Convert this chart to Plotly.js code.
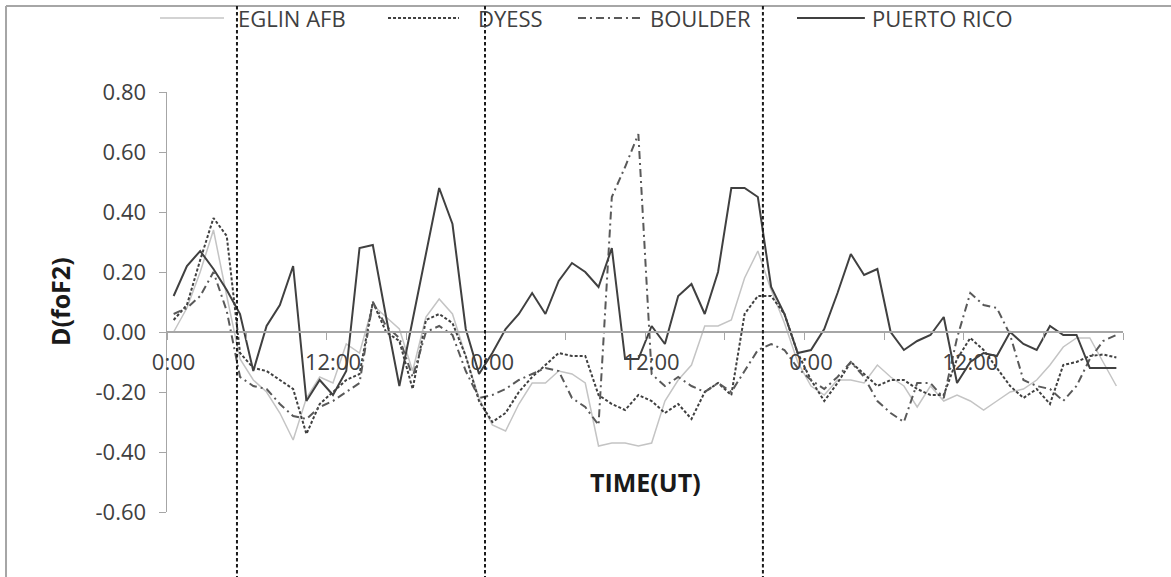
<!DOCTYPE html>
<html>
<head>
<meta charset="utf-8">
<script src="https://cdn.plot.ly/plotly-3.0.1.min.js"></script>
<style>html,body{margin:0;padding:0;background:#fff;}#chart{width:1171px;height:577px;}</style>
</head>
<body>
<div id="chart"></div>
<script>
// Hourly categories (3 days, 72 hours)
const hourIndex = [0,1,2,3,4,5,6,7,8,9,10,11,12,13,14,15,16,17,18,19,20,21,22,23,
  24,25,26,27,28,29,30,31,32,33,34,35,36,37,38,39,40,41,42,43,44,45,46,47,
  48,49,50,51,52,53,54,55,56,57,58,59,60,61,62,63,64,65,66,67,68,69,70,71];

const tickPositions = [0, 12, 24, 36, 48, 60];
const tickLabels = ['0:00', '12:00', '0:00', '12:00', '0:00', '12:00'];
const yTickValues = [-0.6, -0.4, -0.2, 0, 0.2, 0.4, 0.6, 0.8];
const yTickLabels = ['-0.60', '-0.40', '-0.20', '0.00', '0.20', '0.40', '0.60', '0.80'];
const eventTimes = [4.77, 23.45, 44.38];
const seriesNames = ['EGLIN AFB', 'DYESS', 'BOULDER', 'PUERTO RICO'];

const eglin = [0.00, 0.08, 0.20, 0.34, 0.12, -0.09, -0.16, -0.20, -0.27, -0.36,
  -0.22, -0.15, -0.17, -0.04, -0.07, 0.09, 0.05, 0.01, -0.13, 0.05,
  0.11, 0.06, -0.08, -0.22, -0.31, -0.33, -0.24, -0.17, -0.17, -0.13,
  -0.14, -0.17, -0.38, -0.37, -0.37, -0.38, -0.37, -0.23, -0.16, -0.11,
  0.02, 0.02, 0.04, 0.18, 0.27, 0.14, 0.03, -0.10, -0.18, -0.21,
  -0.16, -0.16, -0.17, -0.11, -0.15, -0.18, -0.25, -0.18, -0.23, -0.21,
  -0.23, -0.26, -0.23, -0.20, -0.19, -0.16, -0.11, -0.05, -0.02, -0.02,
  -0.10, -0.18];

const dyess = [0.04, 0.09, 0.24, 0.38, 0.32, -0.07, -0.12, -0.13, -0.16, -0.19,
  -0.34, -0.24, -0.20, -0.16, -0.14, 0.10, 0.00, -0.03, -0.19, 0.04,
  0.06, 0.03, -0.08, -0.23, -0.30, -0.27, -0.20, -0.15, -0.11, -0.07,
  -0.08, -0.08, -0.21, -0.24, -0.26, -0.21, -0.23, -0.27, -0.24, -0.29,
  -0.20, -0.17, -0.21, 0.06, 0.12, 0.12, 0.06, -0.07, -0.16, -0.23,
  -0.17, -0.10, -0.14, -0.18, -0.16, -0.16, -0.19, -0.21, -0.21, -0.09,
  -0.02, -0.06, -0.12, -0.18, -0.22, -0.19, -0.24, -0.11, -0.10, -0.08,
  -0.075, -0.085];

const boulder = [0.06, 0.08, 0.12, 0.20, 0.07, -0.15, -0.18, -0.19, -0.24, -0.28,
  -0.29, -0.25, -0.23, -0.20, -0.17, 0.10, 0.02, -0.02, -0.15, 0.00,
  0.02, -0.01, -0.13, -0.22, -0.21, -0.19, -0.16, -0.14, -0.12, -0.13,
  -0.22, -0.25, -0.31, 0.45, 0.55, 0.66, -0.14, -0.18, -0.15, -0.18,
  -0.20, -0.17, -0.20, -0.13, -0.06, -0.04, -0.06, -0.12, -0.16, -0.19,
  -0.15, -0.10, -0.15, -0.23, -0.27, -0.30, -0.17, -0.17, -0.22, -0.02,
  0.13, 0.09, 0.08, -0.01, -0.16, -0.18, -0.19, -0.23, -0.18, -0.09,
  -0.03, -0.01];

const puertoRico = [0.12, 0.22, 0.27, 0.21, 0.14, 0.06, -0.13, 0.02, 0.09, 0.22,
  -0.23, -0.16, -0.21, -0.13, 0.28, 0.29, 0.05, -0.18, 0.04, 0.26,
  0.48, 0.36, 0.01, -0.14, -0.07, 0.01, 0.06, 0.13, 0.06, 0.17,
  0.23, 0.20, 0.15, 0.28, -0.09, -0.09, 0.02, -0.04, 0.12, 0.16,
  0.06, 0.20, 0.48, 0.48, 0.45, 0.15, 0.06, -0.07, -0.06, 0.01,
  0.13, 0.26, 0.19, 0.21, 0.00, -0.06, -0.03, -0.01, 0.05, -0.17,
  -0.10, -0.07, -0.08, 0.00, -0.04, -0.06, 0.02, -0.01, -0.01, -0.12,
  -0.12, -0.12];

const styles = [
  {color: '#c4c4c4', width: 1.5, dash: 'solid'},
  {color: '#404040', width: 2, dash: '3px,2px'},
  {color: '#595959', width: 2, dash: '8px,4px,2px,4px'},
  {color: '#404040', width: 2, dash: 'solid'}
];
const allSeries = [eglin, dyess, boulder, puertoRico];

const traces = allSeries.map((vals, k) => ({
  type: 'scatter', mode: 'lines', x: hourIndex, y: vals, name: seriesNames[k],
  line: styles[k], showlegend: false, hoverinfo: 'skip'
}));

const minorTicks = [];
for (let k = 0; k <= 12; k++) minorTicks.push(-0.5 + 6 * k);

const fontFam = '"Open Sans", "Noto Sans", sans-serif';
const shapes = [];
// chart border (top and left)
shapes.push({type: 'line', xref: 'paper', yref: 'paper', x0: -0.1684, x1: 1.2, y0: 1.2048, y1: 1.2048, line: {color: '#a6a6a6', width: 2}});
shapes.push({type: 'line', xref: 'paper', yref: 'paper', x0: -0.1684, x1: -0.1684, y0: 1.2048, y1: -0.3, line: {color: '#a6a6a6', width: 2}});
// event lines
eventTimes.forEach(t => shapes.push({type: 'line', xref: 'x', yref: 'paper', x0: t, x1: t, y0: 1.2048, y1: -0.3, line: {color: '#1a1a1a', width: 2, dash: '3.5px,2.5px'}}));

// custom legend
const legX = [[-0.0073, 0.0596], [0.2312, 0.3054], [0.4299, 0.4948], [0.659, 0.730]];
const legTextX = [0.0722, 0.3232, 0.5031, 0.7353];
const legY = 1.176;
const annotations = [];
legX.forEach((p, k) => {
  shapes.push({type: 'line', xref: 'paper', yref: 'paper', x0: p[0], x1: p[1], y0: legY, y1: legY, line: styles[k]});
  annotations.push({xref: 'paper', yref: 'paper', x: legTextX[k], y: legY, xanchor: 'left', yanchor: 'middle', showarrow: false, text: seriesNames[k], font: {family: fontFam, size: 22, color: '#404040'}});
});
annotations.push({xref: 'paper', yref: 'paper', x: -0.1119, y: 0.5, textangle: -90, showarrow: false, xanchor: 'center', yanchor: 'middle', text: '<b>D(foF2)</b>', font: {family: fontFam, size: 25, color: '#1a1a1a'}});
annotations.push({xref: 'paper', yref: 'paper', x: 0.5, y: 0.0714, showarrow: false, xanchor: 'center', yanchor: 'middle', text: '<b>TIME(UT)</b>', font: {family: fontFam, size: 25, color: '#1a1a1a'}});

const layout = {
  width: 1171, height: 577,
  margin: {l: 167, r: 48, t: 92, b: 65},
  paper_bgcolor: '#ffffff', plot_bgcolor: '#ffffff',
  showlegend: false,
  xaxis: {
    range: [-0.5, 71.5], anchor: 'free', position: 0.428571,
    showline: true, linecolor: '#a6a6a6', linewidth: 2,
    showgrid: false, zeroline: false,
    tickmode: 'array', tickvals: tickPositions, ticktext: tickLabels,
    ticks: '', ticklabelstandoff: 11,
    tickfont: {family: fontFam, size: 22, color: '#404040'},
    minor: {tickmode: 'array', tickvals: minorTicks, ticks: 'outside', ticklen: 7, tickwidth: 1, tickcolor: '#a6a6a6', showgrid: false}
  },
  yaxis: {
    range: [-0.6, 0.8],
    showline: true, linecolor: '#a6a6a6', linewidth: 1.5,
    showgrid: false, zeroline: false,
    tickmode: 'array', tickvals: yTickValues, ticktext: yTickLabels,
    ticks: 'outside', ticklen: 7, tickwidth: 1, tickcolor: '#a6a6a6',
    ticklabelstandoff: 8,
    tickfont: {family: fontFam, size: 22, color: '#404040'}
  },
  shapes: shapes,
  annotations: annotations
};

Plotly.newPlot('chart', traces, layout, {displayModeBar: false, staticPlot: true});
</script>
</body>
</html>
